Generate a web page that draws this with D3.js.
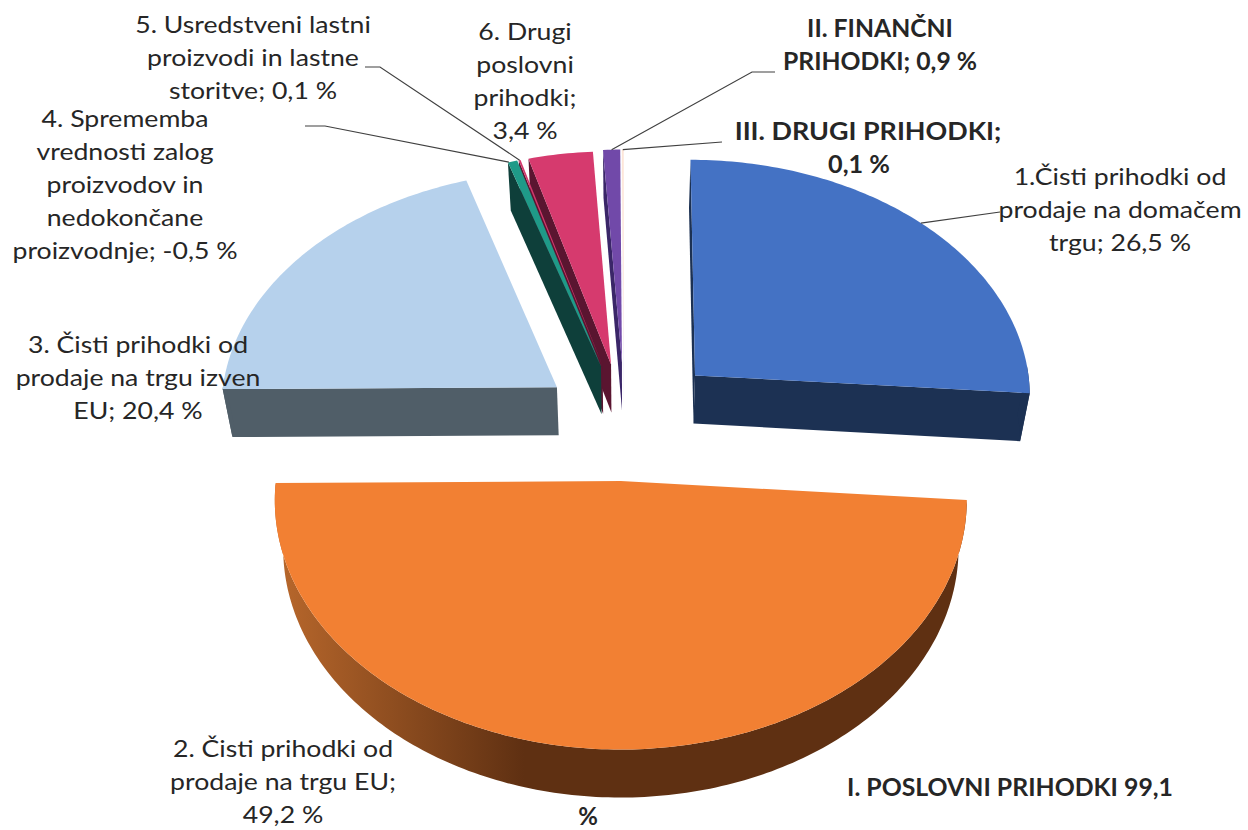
<!DOCTYPE html>
<html>
<head>
<meta charset="utf-8">
<script src="https://cdn.jsdelivr.net/npm/d3@7"></script>
<style>
  html, body { margin: 0; padding: 0; background: #fff; }
  text { font-family: Lato, "Open Sans", sans-serif; fill: #262626; }
</style>
</head>
<body>
<div id="chart-area"></div>
<script>
// Chart data
let categories = ["1. domaci trg", "2. trg EU", "3. izven EU", "4. zaloge", "5. usredstveni", "6. drugi poslovni", "II. financni", "III. drugi"];
let values = [26.5, 49.2, 20.4, -0.5, 0.1, 3.4, 0.9, 0.1];
let topColors = ["#4472c4", "#f28033", "#b6d1ec", "#1f9a88", "#d2386c", "#d63a6e", "#7149a9", "#fde6d8"];
let wallColors = ["#1c3153", "url(#wall-orange)", "#505e68", "#0e3f3a", "#5a1530", "#5a1530", "#3a2668", "#e9e3f5"];

// labels
let labelLines = [
  ["1.Čisti prihodki od", "prodaje na domačem", "trgu; 26,5 %"],
  ["2. Čisti prihodki od", "prodaje na trgu EU;", "49,2 %"],
  ["3. Čisti prihodki od", "prodaje na trgu izven", "EU; 20,4 %"],
  ["4. Sprememba", "vrednosti zalog", "proizvodov in", "nedokončane", "proizvodnje; -0,5 %"],
  ["5. Usredstveni lastni", "proizvodi in lastne", "storitve; 0,1 %"],
  ["6. Drugi", "poslovni", "prihodki;", "3,4 %"],
  ["II. FINANČNI", "PRIHODKI; 0,9 %"],
  ["III. DRUGI PRIHODKI;"],
  ["0,1 %"],
  ["I. POSLOVNI PRIHODKI 99,1"],
  ["%"]
];
let labelX = [1120, 283, 138, 125, 253, 525, 880, 868, 859, 1010, 588];
let labelY = [185, 757, 353, 127, 33, 40, 37, 140, 173, 796, 825];
let labelBold = [false, false, false, false, false, false, true, true, true, true, true];
let labelStretch = [1.11, 1.11, 1.11, 1.11, 1.11, 1.11, 1.03, 1.12, 1.05, 1.035, 1];
let lineHeight = 33;

// leader lines: elbow points, the last point comes from the slice
let leaders = [
  {slice: 0, pts: [[1000, 212]], at: 0.49},
  {slice: 3, pts: [[305, 126], [325, 126]], at: 0.1},
  {slice: 4, pts: [[365, 67], [380, 67]], at: 0.5},
  {slice: 6, pts: [[775, 72], [752, 72]], at: 0.5},
  {slice: 7, pts: [[722, 142]], at: 0.5}
];

// Perspective of the pie
let cx = 627, cy = 415.5;
let rx = 338, ry = 238;
let persp = 0.075;
let explode = 0.27;
let depth = 48;
let shrink = 0.976;
// the exploded slices do not sit quite radially in the original
let nudgeX = [2, -3, 3, 0, 0, -1, -2, -3];
let nudgeY = [3, 0, 9, 11, 11, 11, 10, 10];

let svg = d3.select("#chart-area").append("svg")
    .attr("width", 1248)
    .attr("height", 830);

let grad = svg.append("defs").append("linearGradient")
    .attr("id", "wall-orange")
    .attr("x1", 0).attr("x2", 1).attr("y1", 0).attr("y2", 0);
grad.append("stop").attr("offset", 0).attr("stop-color", "#b9682c");
grad.append("stop").attr("offset", 0.36).attr("stop-color", "#5f3012");
grad.append("stop").attr("offset", 1).attr("stop-color", "#5f3012");

let pie = d3.pie()
    .sort(null)
    .value(d => Math.abs(d))
    .startAngle(0)
    .endAngle(2 * Math.PI);

let slices = pie(values);
let line = d3.line();

// disc coords to screen, level 0 = top face, 1 = bottom face
function project(x, z, level) {
  let s = 1 / (1 - persp * z);
  let sx = cx + rx * x * s;
  let sy = cy + ry * z * s;
  if (level == 1) {
    sx = cx + (sx - cx) * shrink;
    sy = sy + depth;
  }
  return [sx, sy];
}

function offset(d) {
  let mid = (d.startAngle + d.endAngle) / 2;
  return [explode * Math.sin(mid), -explode * Math.cos(mid)];
}

function moved(d, p) {
  return [p[0] + nudgeX[d.index], p[1] + nudgeY[d.index]];
}

function rim(d, a, level) {
  let o = offset(d);
  return moved(d, project(o[0] + Math.sin(a), o[1] - Math.cos(a), level));
}

function apex(d, level) {
  let o = offset(d);
  return moved(d, project(o[0], o[1], level));
}

function arcAngles(d) {
  let n = Math.max(2, Math.ceil((d.endAngle - d.startAngle) * 60));
  return d3.range(n + 1).map(i => d.startAngle + (d.endAngle - d.startAngle) * i / n);
}

// back to front, the thin slices overlap right to left
let order = [7, 6, 5, 4, 3, 2, 0, 1];

order.forEach(function(i) {
  let d = slices[i];
  let g = svg.append("g").attr("class", "slice");
  let angles = arcAngles(d);

  // start and end walls, only the ones that face the viewer
  let walls = [];
  if (d.startAngle > Math.PI || d.startAngle == 0) walls.push(d.startAngle);
  if (d.endAngle < Math.PI) walls.push(d.endAngle);
  walls.forEach(function(a) {
    g.append("path")
      .attr("d", line([apex(d, 0), rim(d, a, 0), rim(d, a, 1), apex(d, 1)]) + "Z")
      .attr("fill", wallColors[i]);
  });

  // outer wall, front half only
  let front = angles.filter(a => Math.cos(a) < 0.05);
  if (front.length > 1) {
    let outer = front.map(a => rim(d, a, 0)).concat(front.slice().reverse().map(a => rim(d, a, 1)));
    g.append("path")
      .attr("d", line(outer) + "Z")
      .attr("fill", wallColors[i]);
  }

  // top face
  let top = [apex(d, 0)].concat(angles.map(a => rim(d, a, 0)));
  g.append("path")
    .attr("d", line(top) + "Z")
    .attr("fill", topColors[i]);
});

// Leader lines
leaders.forEach(function(l) {
  let d = slices[l.slice];
  let a = d.startAngle + (d.endAngle - d.startAngle) * l.at;
  svg.append("path")
    .attr("d", line(l.pts.concat([rim(d, a, 0)])))
    .attr("fill", "none")
    .attr("stroke", "#404040")
    .attr("stroke-width", 1.2);
});

// Data labels, Calibri in the original is a bit wider so stretch the lines
labelLines.forEach(function(lines, i) {
  lines.forEach(function(s, j) {
    svg.append("text")
      .attr("transform", "translate(" + labelX[i] + "," + (labelY[i] + j * lineHeight) + ") scale(" + labelStretch[i] + ",1)")
      .attr("text-anchor", "middle")
      .attr("font-size", 24)
      .attr("font-weight", labelBold[i] ? 700 : 400)
      .text(s);
  });
});
</script>
</body>
</html>
